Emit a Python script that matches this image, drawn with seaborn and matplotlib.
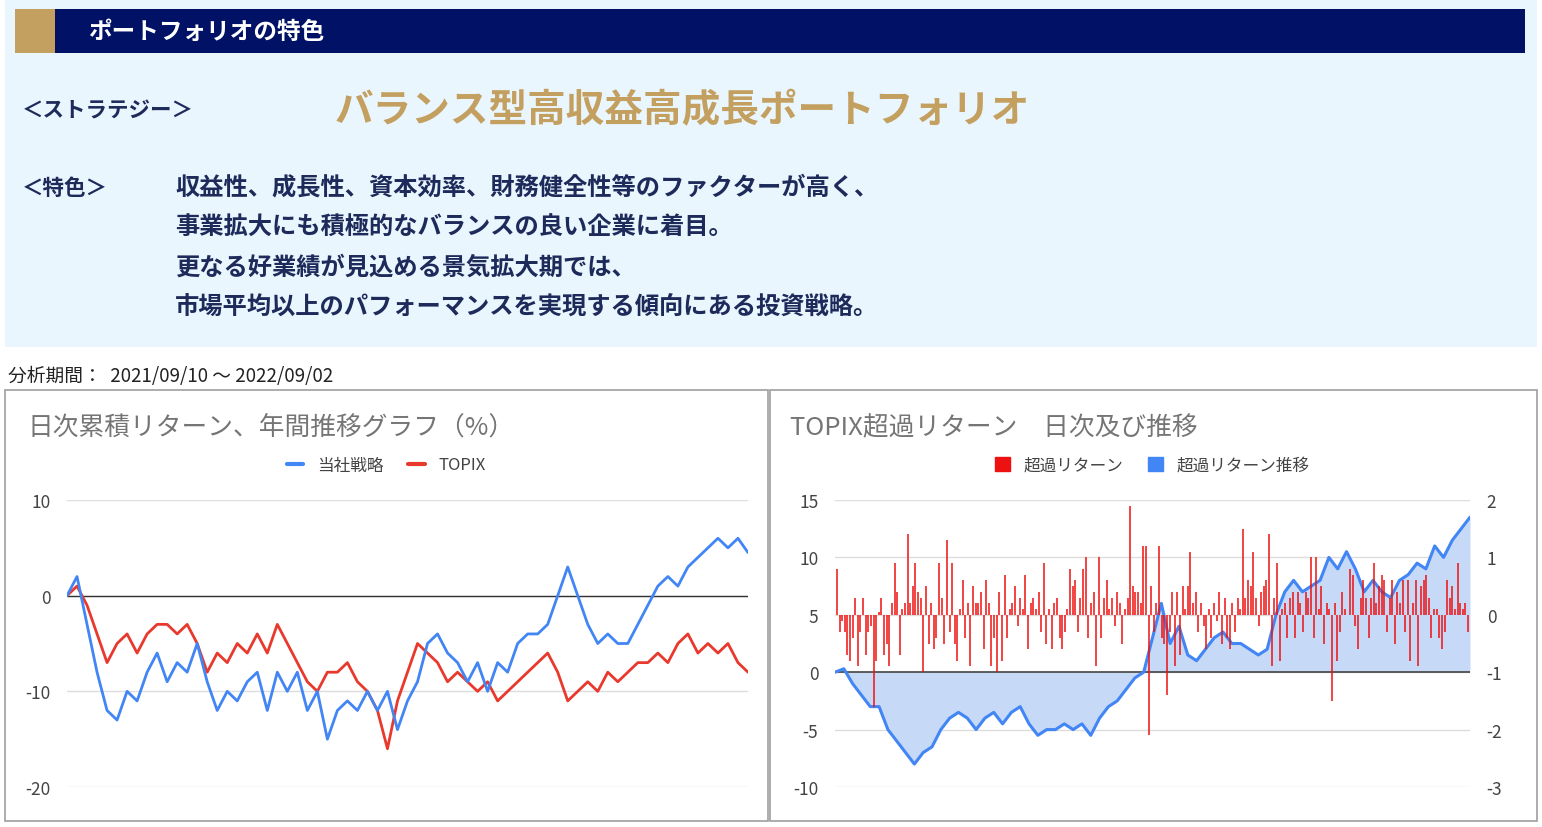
import numpy as np
import pandas as pd
import matplotlib
matplotlib.use("Agg")
import matplotlib.pyplot as plt
from matplotlib.patches import Rectangle
from matplotlib.lines import Line2D
import seaborn as sns

sns.set_theme(style="white")
plt.rcParams['font.family'] = ['Noto Sans CJK JP', 'DejaVu Sans']
plt.rcParams['axes.unicode_minus'] = False

title_left = "日次累積リターン、年間推移グラフ（%）"
title_right = "TOPIX超過リターン　日次及び推移"
legend_left = ["当社戦略", "TOPIX"]
legend_right = ["超過リターン", "超過リターン推移"]

strategy = [0, 2, -3, -8, -12, -13, -10, -11, -8, -6, -9, -7, -8, -5, -9, -12, -10, -11, -9, -8,
            -12, -8, -10, -8, -12, -10, -15, -12, -11, -12, -10, -12, -10, -14, -11, -9, -5, -4, -6, -7,
            -9, -7, -10, -7, -8, -5, -4, -4, -3, 0, 3, 0, -3, -5, -4, -5, -5, -3, -1, 1,
            2, 1, 3, 4, 5, 6, 5, 6, 4.5]
topix = [0, 1, -1, -4, -7, -5, -4, -6, -4, -3, -3, -4, -3, -5, -8, -6, -7, -5, -6, -4,
         -6, -3, -5, -7, -9, -10, -8, -8, -7, -9, -10, -12, -16, -11, -8, -5, -6, -7, -9, -8,
         -9, -10, -9, -11, -10, -9, -8, -7, -6, -8, -11, -10, -9, -10, -8, -9, -8, -7, -7, -6,
         -7, -5, -4, -6, -5, -6, -5, -7, -8]

excess_cum = [0, 0.3, -1, -2, -3, -3, -5, -6, -7, -8, -7, -6.5, -5, -4, -3.5, -4, -5, -4, -3.5, -4.5,
              -3.5, -3, -4.5, -5.5, -5, -5, -4.5, -5, -4.5, -5.5, -4, -3, -2.5, -1.5, -0.5, 0, 3, 6, 2.5, 4,
              1.5, 1, 2, 3, 3.5, 2.5, 2.5, 2, 1.5, 2, 5, 7, 8, 7, 7.5, 8, 10, 9, 10.5, 9,
              7, 8, 7, 6.5, 8, 8.5, 9.5, 9, 11, 10, 11.5, 12.5, 13.5]
excess_daily = [0.8, -0.3, -0.1, -0.3, -0.7, -0.8, -0.4, 0.3, -0.9, -0.3, 0.3, -0.7, -0.3, -0.2, -1.6, -0.8, 0.05, 0.3, -0.7, -0.5,
                -0.9, 0.2, 0.9, 0.4, -0.7, 0.1, 0.2, 1.4, 0.2, 0.5, 0.9, 0.4, 0.3, -1.0, 0.5, -0.5, 0.2, -0.6, -0.4, 0.9,
                0.3, -0.5, 1.3, -0.3, 0.9, -0.5, -0.8, 0.1, 0.6, -0.4, 0.2, -0.9, 0.5, 0.2, 0.2, 0.4, -0.6, 0.6, 0.2, -0.9,
                -0.4, -1.0, 0.4, -0.8, 0.7, -0.4, 0.1, 0.2, 0.5, -0.2, 0.3, 0.1, 0.7, -0.6, 0.2, 0.3, 0.1, 0.4, -0.3, 0.9,
                -0.5, 0.1, -0.6, 0.2, 0.3, -0.4, -0.6, -0.3, 0.1, 0.8, 0.5, 0.6, -0.3, 0.3, 0.8, 1.0, -0.4, 0.2, 0.4, -0.9,
                1.0, -0.4, 0.3, 0.6, 0.1, 0.3, -0.2, 0.4, 0.2, -0.5, 0.1, 0.3, 1.9, 0.5, 0.4, 0.4, 0.2, 1.2, 1.2, -2.1,
                0.5, -0.3, 0.2, 1.2, -0.4, -0.5, -1.4, -0.3, 0.4, -0.9, 0.4, -0.7, 0.5, 0.1, 0.5, 1.1, 0.2, 0.4, -0.3, 0.2,
                -0.2, -0.6, 0.1, -0.4, 0.2, -0.1, 0.4, -0.5, 0.3, -0.4, -0.6, 0.2, -0.3, 0.3, 0.1, 1.5, 0.3, 0.6, 0.5, 1.1,
                0.3, -0.2, 0.4, 0.5, 0.6, 1.4, -0.9, 0.3, 0.9, -0.8, 0.1, 0.2, -0.4, 0.3, 0.4, -0.4, 0.4, 0.2, -0.3, 0.4,
                0.3, 1.0, -0.4, 1.0, 0.1, 0.5, -0.5, 0.2, 0.1, -1.5, 0.2, -0.8, -0.3, 0.4, 0.1, 0.0, 0.8, 0.7, -0.2, -0.6,
                0.3, 0.6, 0.3, -0.4, 0.3, 0.9, 0.2, 0.5, 0.7, 0.6, -0.3, 0.3, 0.6, -0.5, 0.4, 0.2, 0.6, -0.3, 0.6, -0.8,
                0.2, 0.6, -0.9, 0.5, 0.6, 0.7, 0.3, -0.4, 0.1, 0.1, -0.4, -0.6, -0.3, 0.6, 0.3, 0.5, 0.1, 0.9, 0.2, 0.1, 0.2, -0.3]

W, H = 1542, 828
fig = plt.figure(figsize=(W / 100, H / 100), dpi=100)
fig.patch.set_facecolor("white")

def fr(x0, y0, x1, y1, **kw):
    fig.add_artist(Rectangle((x0 / W, 1 - y1 / H), (x1 - x0) / W, (y1 - y0) / H,
                             transform=fig.transFigure, zorder=-5, **kw))

def ft(x, y, s, **kw):
    fig.text(x / W, 1 - y / H, s, va="center", **kw)

# top panel
fr(5, 0, 1537, 348, facecolor="#EAF6FE", edgecolor="none")
fr(15, 10, 1525, 54, facecolor="#001166", edgecolor="none")
fr(15, 10, 55, 54, facecolor="#C4A060", edgecolor="none")
ft(88, 32, "ポートフォリオの特色", color="white", fontsize=17, fontweight="bold")
navy = "#1E2A5A"
ft(22, 111, "＜ストラテジー＞", color=navy, fontsize=15.5, fontweight="bold")
ft(335, 111, "バランス型高収益高成長ポートフォリオ", color="#C4A060", fontsize=27.8, fontweight="bold")
ft(22, 188, "＜特色＞", color=navy, fontsize=15.5, fontweight="bold")
lines = ["収益性、成長性、資本効率、財務健全性等のファクターが高く、",
         "事業拡大にも積極的なバランスの良い企業に着目。",
         "更なる好業績が見込める景気拡大期では、",
         "市場平均以上のパフォーマンスを実現する傾向にある投資戦略。"]
for i, l in enumerate(lines):
    ft(175, 188 + 40 * i, l, color=navy, fontsize=17.5, fontweight="bold")
ft(8, 377, "分析期間：  2021/09/10 ～ 2022/09/02", color="#222222", fontsize=13.5)

# chart boxes
fr(5, 391, 768, 822, facecolor="white", edgecolor="#9E9E9E", linewidth=1.2)
fr(770, 391, 1537, 822, facecolor="white", edgecolor="#9E9E9E", linewidth=1.2)

ft(27, 428, title_left, color="#757575", fontsize=18.5)
ft(790, 428, title_right, color="#757575", fontsize=18.5)

BLUE = "#4285F4"
RED = "#E8392C"
BARRED = "#EE1111"

def mkax(x0, y0, x1, y1):
    ax = fig.add_axes([x0 / W, 1 - y1 / H, (x1 - x0) / W, (y1 - y0) / H])
    ax.set_facecolor("none")
    for s in ax.spines.values():
        s.set_visible(False)
    return ax

# left chart
ax1 = mkax(67, 501, 748, 788)
df = pd.DataFrame({"x": np.linspace(0, 1, len(strategy)), "s": strategy, "t": topix})
sns.lineplot(data=df, x="x", y="t", ax=ax1, color=RED, linewidth=2)
sns.lineplot(data=df, x="x", y="s", ax=ax1, color=BLUE, linewidth=2)
ax1.set_ylim(-20, 10)
ax1.set_xlim(0, 1)
ax1.set_yticks([-20, -10, 0, 10])
ax1.grid(axis="y", color="#DDDDDD", linewidth=1)
ax1.axhline(0, color="#333333", linewidth=1, zorder=1)
ax1.set_axisbelow(True)
ax1.tick_params(axis="y", length=0, labelsize=12.5, labelcolor="#444444", pad=12)
ax1.set_xticks([])
ax1.set_xlabel("")
ax1.set_ylabel("")
h1 = [Line2D([], [], color=BLUE, linewidth=3), Line2D([], [], color=RED, linewidth=3)]
fig.legend(h1, legend_left, loc="center", bbox_to_anchor=(386 / W, 1 - 466 / H), ncol=2,
           frameon=False, fontsize=12, handlelength=1.0, columnspacing=1.5, labelcolor="#444444")

# right chart: ax2 (left axis, cumulative line), ax3 (right axis, daily bars)
ax2 = mkax(835, 501, 1470, 788)
xl = np.linspace(0, 1, len(excess_cum))
dfr = pd.DataFrame({"x": xl, "c": excess_cum})
ax2.fill_between(xl, 0, excess_cum, color="#C6DAF8", linewidth=0, zorder=1)
ax2.axhline(0, color="#444444", linewidth=1.2, zorder=2)
sns.lineplot(data=dfr, x="x", y="c", ax=ax2, color=BLUE, linewidth=2.2, zorder=4)
ax2.set_ylim(-10, 15)
ax2.set_xlim(0, 1)
ax2.set_yticks([-10, -5, 0, 5, 10, 15])
ax2.grid(axis="y", color="#DDDDDD", linewidth=1)
ax2.set_axisbelow(True)
ax2.tick_params(axis="y", length=0, labelsize=12.5, labelcolor="#444444", pad=12)
ax2.set_xticks([])
ax2.set_xlabel(""); ax2.set_ylabel("")

ax3 = ax2.twinx()
ax3.set_facecolor("none")
for s in ax3.spines.values():
    s.set_visible(False)
xb = np.linspace(0.003, 0.997, len(excess_daily))
ax3.vlines(xb, 0, excess_daily, color=BARRED, linewidth=1.1, zorder=3)
ax3.set_ylim(-3, 2)
ax3.set_xlim(0, 1)
ax3.set_yticks([-3, -2, -1, 0, 1, 2])
ax3.tick_params(axis="y", length=0, labelsize=12.5, labelcolor="#444444", pad=12)
ax3.grid(False)
ax3.set_ylabel("")

h2 = [Rectangle((0, 0), 1, 1, color=BARRED), Rectangle((0, 0), 1, 1, color=BLUE)]
fig.legend(h2, legend_right, loc="center", bbox_to_anchor=(1152 / W, 1 - 466 / H), ncol=2,
           frameon=False, fontsize=12, handlelength=0.9, handleheight=0.9, columnspacing=1.5,
           labelcolor="#444444")

fig.savefig("out.png", dpi=100)
